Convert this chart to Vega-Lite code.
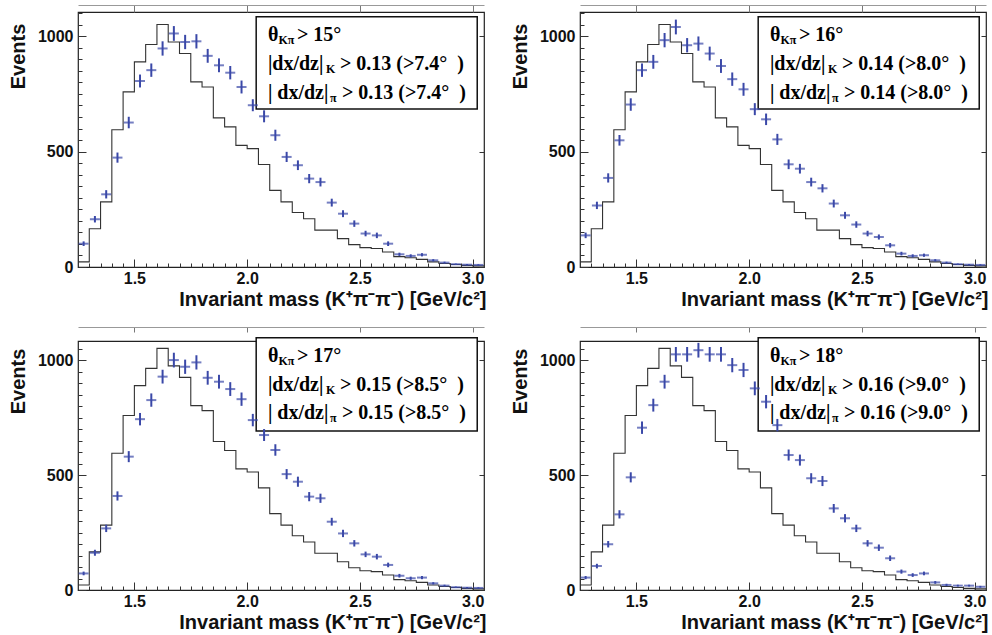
{
"$schema": "https://vega.github.io/schema/vega-lite/v6.json",
"background": "white",
"padding": {"left": 7, "top": 3, "right": 0, "bottom": 0},
"config": {"view": {"stroke": "#222", "strokeWidth": 1.2}, "axis": {"grid": false}},
"datasets": {
"hist": [
{"x":1.25,"n":22},{"x":1.30,"n":166},{"x":1.35,"n":282},{"x":1.40,"n":595},{"x":1.45,"n":759},{"x":1.50,"n":889},{"x":1.55,"n":964},{"x":1.60,"n":1051},{"x":1.65,"n":975},{"x":1.70,"n":925},{"x":1.75,"n":802},{"x":1.80,"n":780},{"x":1.85,"n":646},{"x":1.90,"n":607},{"x":1.95,"n":527},{"x":2.00,"n":513},{"x":2.05,"n":444},{"x":2.10,"n":332},{"x":2.15,"n":282},{"x":2.20,"n":236},{"x":2.25,"n":209},{"x":2.30,"n":160},{"x":2.35,"n":160},{"x":2.40,"n":123},{"x":2.45,"n":97},{"x":2.50,"n":84},{"x":2.55,"n":80},{"x":2.60,"n":65},{"x":2.65,"n":45},{"x":2.70,"n":40},{"x":2.75,"n":33},{"x":2.80,"n":22},{"x":2.85,"n":15},{"x":2.90,"n":11},{"x":2.95,"n":7},{"x":3.00,"n":5},{"x":3.05,"n":5}
],
"pts": [
{"p":1,"m":1.275,"v":101,"e":10},{"p":1,"m":1.325,"v":207,"e":14},{"p":1,"m":1.375,"v":315,"e":18},{"p":1,"m":1.425,"v":474,"e":22},{"p":1,"m":1.475,"v":626,"e":25},{"p":1,"m":1.525,"v":806,"e":28},{"p":1,"m":1.575,"v":853,"e":29},{"p":1,"m":1.625,"v":947,"e":31},{"p":1,"m":1.675,"v":1012,"e":32},{"p":1,"m":1.725,"v":975,"e":31},{"p":1,"m":1.775,"v":978,"e":31},{"p":1,"m":1.825,"v":915,"e":30},{"p":1,"m":1.875,"v":874,"e":30},{"p":1,"m":1.925,"v":842,"e":29},{"p":1,"m":1.975,"v":780,"e":28},{"p":1,"m":2.025,"v":701,"e":26},{"p":1,"m":2.075,"v":653,"e":26},{"p":1,"m":2.125,"v":571,"e":24},{"p":1,"m":2.175,"v":477,"e":22},{"p":1,"m":2.225,"v":441,"e":21},{"p":1,"m":2.275,"v":383,"e":20},{"p":1,"m":2.325,"v":368,"e":19},{"p":1,"m":2.375,"v":279,"e":17},{"p":1,"m":2.425,"v":231,"e":15},{"p":1,"m":2.475,"v":188,"e":14},{"p":1,"m":2.525,"v":145,"e":12},{"p":1,"m":2.575,"v":137,"e":12},{"p":1,"m":2.625,"v":101,"e":10},{"p":1,"m":2.675,"v":55,"e":7},{"p":1,"m":2.725,"v":48,"e":7},{"p":1,"m":2.775,"v":53,"e":7},{"p":1,"m":2.825,"v":29,"e":5},{"p":1,"m":2.875,"v":19,"e":4},{"p":1,"m":2.925,"v":12,"e":3},{"p":1,"m":2.975,"v":10,"e":3},{"p":1,"m":3.025,"v":9,"e":3},
{"p":2,"m":1.275,"v":137,"e":12},{"p":2,"m":1.325,"v":267,"e":16},{"p":2,"m":1.375,"v":386,"e":20},{"p":2,"m":1.425,"v":549,"e":23},{"p":2,"m":1.475,"v":704,"e":27},{"p":2,"m":1.525,"v":853,"e":29},{"p":2,"m":1.575,"v":889,"e":30},{"p":2,"m":1.625,"v":983,"e":31},{"p":2,"m":1.675,"v":1040,"e":32},{"p":2,"m":1.725,"v":961,"e":31},{"p":2,"m":1.775,"v":968,"e":31},{"p":2,"m":1.825,"v":925,"e":30},{"p":2,"m":1.875,"v":871,"e":30},{"p":2,"m":1.925,"v":814,"e":29},{"p":2,"m":1.975,"v":770,"e":28},{"p":2,"m":2.025,"v":684,"e":26},{"p":2,"m":2.075,"v":640,"e":25},{"p":2,"m":2.125,"v":553,"e":24},{"p":2,"m":2.175,"v":445,"e":21},{"p":2,"m":2.225,"v":426,"e":21},{"p":2,"m":2.275,"v":368,"e":19},{"p":2,"m":2.325,"v":341,"e":18},{"p":2,"m":2.375,"v":275,"e":17},{"p":2,"m":2.425,"v":224,"e":15},{"p":2,"m":2.475,"v":184,"e":14},{"p":2,"m":2.525,"v":145,"e":12},{"p":2,"m":2.575,"v":130,"e":11},{"p":2,"m":2.625,"v":94,"e":10},{"p":2,"m":2.675,"v":58,"e":8},{"p":2,"m":2.725,"v":48,"e":7},{"p":2,"m":2.775,"v":51,"e":7},{"p":2,"m":2.825,"v":29,"e":5},{"p":2,"m":2.875,"v":19,"e":4},{"p":2,"m":2.925,"v":12,"e":3},{"p":2,"m":2.975,"v":10,"e":3},{"p":2,"m":3.025,"v":9,"e":3},
{"p":3,"m":1.275,"v":72,"e":8},{"p":3,"m":1.325,"v":162,"e":13},{"p":3,"m":1.375,"v":268,"e":16},{"p":3,"m":1.425,"v":409,"e":20},{"p":3,"m":1.475,"v":580,"e":24},{"p":3,"m":1.525,"v":743,"e":27},{"p":3,"m":1.575,"v":826,"e":29},{"p":3,"m":1.625,"v":928,"e":30},{"p":3,"m":1.675,"v":1000,"e":32},{"p":3,"m":1.725,"v":971,"e":31},{"p":3,"m":1.775,"v":990,"e":31},{"p":3,"m":1.825,"v":923,"e":30},{"p":3,"m":1.875,"v":906,"e":30},{"p":3,"m":1.925,"v":874,"e":30},{"p":3,"m":1.975,"v":830,"e":29},{"p":3,"m":2.025,"v":739,"e":27},{"p":3,"m":2.075,"v":674,"e":26},{"p":3,"m":2.125,"v":609,"e":25},{"p":3,"m":2.175,"v":504,"e":22},{"p":3,"m":2.225,"v":471,"e":22},{"p":3,"m":2.275,"v":406,"e":20},{"p":3,"m":2.325,"v":399,"e":20},{"p":3,"m":2.375,"v":297,"e":17},{"p":3,"m":2.425,"v":246,"e":16},{"p":3,"m":2.475,"v":203,"e":14},{"p":3,"m":2.525,"v":155,"e":12},{"p":3,"m":2.575,"v":145,"e":12},{"p":3,"m":2.625,"v":109,"e":10},{"p":3,"m":2.675,"v":62,"e":8},{"p":3,"m":2.725,"v":51,"e":7},{"p":3,"m":2.775,"v":54,"e":7},{"p":3,"m":2.825,"v":29,"e":5},{"p":3,"m":2.875,"v":19,"e":4},{"p":3,"m":2.925,"v":12,"e":3},{"p":3,"m":2.975,"v":10,"e":3},{"p":3,"m":3.025,"v":9,"e":3},
{"p":4,"m":1.275,"v":54,"e":7},{"p":4,"m":1.325,"v":104,"e":10},{"p":4,"m":1.375,"v":199,"e":14},{"p":4,"m":1.425,"v":329,"e":18},{"p":4,"m":1.475,"v":490,"e":22},{"p":4,"m":1.525,"v":706,"e":27},{"p":4,"m":1.575,"v":804,"e":28},{"p":4,"m":1.625,"v":906,"e":30},{"p":4,"m":1.675,"v":1025,"e":32},{"p":4,"m":1.725,"v":1025,"e":32},{"p":4,"m":1.775,"v":1043,"e":32},{"p":4,"m":1.825,"v":1025,"e":32},{"p":4,"m":1.875,"v":1025,"e":32},{"p":4,"m":1.925,"v":978,"e":31},{"p":4,"m":1.975,"v":957,"e":31},{"p":4,"m":2.025,"v":877,"e":30},{"p":4,"m":2.075,"v":819,"e":29},{"p":4,"m":2.125,"v":717,"e":27},{"p":4,"m":2.175,"v":587,"e":24},{"p":4,"m":2.225,"v":565,"e":24},{"p":4,"m":2.275,"v":486,"e":22},{"p":4,"m":2.325,"v":474,"e":22},{"p":4,"m":2.375,"v":355,"e":19},{"p":4,"m":2.425,"v":312,"e":18},{"p":4,"m":2.475,"v":268,"e":16},{"p":4,"m":2.525,"v":203,"e":14},{"p":4,"m":2.575,"v":184,"e":14},{"p":4,"m":2.625,"v":138,"e":12},{"p":4,"m":2.675,"v":80,"e":9},{"p":4,"m":2.725,"v":65,"e":8},{"p":4,"m":2.775,"v":72,"e":8},{"p":4,"m":2.825,"v":33,"e":6},{"p":4,"m":2.875,"v":22,"e":5},{"p":4,"m":2.925,"v":19,"e":4},{"p":4,"m":2.975,"v":19,"e":4},{"p":4,"m":3.025,"v":14,"e":4}
]
},
"vconcat": [
{"hconcat": [
{"width": 406, "height": 255, "resolve": {"axis": {"x": "independent", "y": "independent"}},
 "layer": [
  {"data": {"values": [{}]}, "mark": {"type": "rect", "fill": "white", "stroke": "#111", "strokeWidth": 1.5},
   "encoding": {"x": {"datum": 2.04, "type": "quantitative", "scale": {"domain": [1.25, 3.05], "nice": false, "zero": false}, "axis": null}, "x2": {"datum": 3.02},
    "y": {"datum": 1084, "type": "quantitative", "scale": {"domain": [0, 1105], "nice": false}, "axis": null}, "y2": {"datum": 685}}},
  {"data": {"name": "hist"}, "mark": {"type": "line", "interpolate": "step-after", "color": "#333", "strokeWidth": 1.1, "clip": true},
   "encoding": {
    "x": {"field": "x", "type": "quantitative", "scale": {"domain": [1.25, 3.05], "nice": false, "zero": false},
     "axis": {"orient": "bottom", "values": [1.3,1.35,1.4,1.45,1.5,1.55,1.6,1.65,1.7,1.75,1.8,1.85,1.9,1.95,2,2.05,2.1,2.15,2.2,2.25,2.3,2.35,2.4,2.45,2.5,2.55,2.6,2.65,2.7,2.75,2.8,2.85,2.9,2.95,3],
      "labelExpr": "abs(datum.value*2-round(datum.value*2))<0.001 ? format(datum.value,'.1f') : ''",
      "tickSize": {"condition": {"test": "abs(datum.value*2-round(datum.value*2))<0.001", "value": -8}, "value": -4},
      "tickColor": "#333", "domain": false, "labelFont": "Liberation Sans", "labelFontWeight": "bold", "labelFontSize": 16, "labelColor": "#111", "labelPadding": 11, "labelOverlap": false, "labelFlush": false,
      "title": "Invariant mass (K⁺π⁻π⁻) [GeV/c²]", "titleFont": "Liberation Sans", "titleFontSize": 20, "titleFontWeight": "bold", "titleColor": "#111", "titleAnchor": "end", "titleAlign": "right", "titleX": 408, "titleY": 38, "titleBaseline": "alphabetic"}},
    "y": {"field": "n", "type": "quantitative", "scale": {"domain": [0, 1105], "nice": false},
     "axis": {"orient": "left", "values": [0,50,100,150,200,250,300,350,400,450,500,550,600,650,700,750,800,850,900,950,1000,1050,1100],
      "labelExpr": "datum.value % 500 == 0 ? format(datum.value,'d') : ''",
      "tickSize": {"condition": {"test": "datum.value % 500 == 0", "value": -8}, "value": -4},
      "tickColor": "#333", "domain": false, "labelFont": "Liberation Sans", "labelFontWeight": "bold", "labelFontSize": 16, "labelColor": "#111", "labelPadding": 13, "labelOverlap": false, "labelFlush": false, "labelBaseline": "middle",
      "title": "Events", "titleFont": "Liberation Sans", "titleFontSize": 20, "titleFontWeight": "bold", "titleColor": "#111", "titleAngle": 270, "titleAlign": "center", "titleBaseline": "middle", "titleX": -60, "titleY": 44}}}},
  {"data": {"name": "pts"}, "transform": [{"filter": "datum.p == 1"}], "mark": {"type": "errorbar", "color": "#3a48a8", "thickness": 2},
   "encoding": {"x": {"field": "m", "type": "quantitative", "scale": {"domain": [1.25, 3.05], "nice": false, "zero": false}, "axis": null},
    "y": {"field": "v", "type": "quantitative", "scale": {"domain": [0, 1105], "nice": false}, "axis": null}, "yError": {"field": "e"}}},
  {"data": {"name": "pts"}, "transform": [{"filter": "datum.p == 1"}], "mark": {"type": "tick", "orient": "horizontal", "color": "#3a48a8", "thickness": 2, "size": 10},
   "encoding": {"x": {"field": "m", "type": "quantitative", "scale": {"domain": [1.25, 3.05], "nice": false, "zero": false},
     "axis": {"orient": "top", "offset": 7, "values": [1.5, 2, 2.5, 3], "tickSize": -7, "tickColor": "#777", "domainColor": "#999", "labels": false, "title": null}},
    "y": {"field": "v", "type": "quantitative", "scale": {"domain": [0, 1105], "nice": false},
     "axis": {"orient": "right", "values": [0, 500, 1000], "tickSize": -5, "tickColor": "#333", "labels": false, "domain": false, "title": null}}}},
  {"data": {"values": [{}]}, "mark": {"type": "text", "text": "θ", "font": "Liberation Serif", "fontWeight": "bold", "fontSize": 20, "align": "left", "baseline": "alphabetic", "color": "#000"},
   "encoding": {"x": {"datum": 2.092, "type": "quantitative", "scale": {"domain": [1.25, 3.05], "nice": false, "zero": false}, "axis": null}, "y": {"datum": 978, "type": "quantitative", "scale": {"domain": [0, 1105], "nice": false}, "axis": null}}},
  {"data": {"values": [{}]}, "mark": {"type": "text", "text": "Kπ", "dx": 10.5, "dy": 3, "font": "Liberation Serif", "fontWeight": "bold", "fontSize": 12, "align": "left", "baseline": "alphabetic", "color": "#000"},
   "encoding": {"x": {"datum": 2.092, "type": "quantitative", "scale": {"domain": [1.25, 3.05], "nice": false, "zero": false}, "axis": null}, "y": {"datum": 978, "type": "quantitative", "scale": {"domain": [0, 1105], "nice": false}, "axis": null}}},
  {"data": {"values": [{}]}, "mark": {"type": "text", "text": "> 15°", "dx": 29, "font": "Liberation Serif", "fontWeight": "bold", "fontSize": 20, "align": "left", "baseline": "alphabetic", "color": "#000"},
   "encoding": {"x": {"datum": 2.092, "type": "quantitative", "scale": {"domain": [1.25, 3.05], "nice": false, "zero": false}, "axis": null}, "y": {"datum": 978, "type": "quantitative", "scale": {"domain": [0, 1105], "nice": false}, "axis": null}}},
  {"data": {"values": [{}]}, "mark": {"type": "text", "text": "|dx/dz|", "font": "Liberation Serif", "fontWeight": "bold", "fontSize": 20, "align": "left", "baseline": "alphabetic", "color": "#000"},
   "encoding": {"x": {"datum": 2.092, "type": "quantitative", "scale": {"domain": [1.25, 3.05], "nice": false, "zero": false}, "axis": null}, "y": {"datum": 853, "type": "quantitative", "scale": {"domain": [0, 1105], "nice": false}, "axis": null}}},
  {"data": {"values": [{}]}, "mark": {"type": "text", "text": "K", "dx": 58, "dy": 3, "font": "Liberation Serif", "fontWeight": "bold", "fontSize": 12, "align": "left", "baseline": "alphabetic", "color": "#000"},
   "encoding": {"x": {"datum": 2.092, "type": "quantitative", "scale": {"domain": [1.25, 3.05], "nice": false, "zero": false}, "axis": null}, "y": {"datum": 853, "type": "quantitative", "scale": {"domain": [0, 1105], "nice": false}, "axis": null}}},
  {"data": {"values": [{}]}, "mark": {"type": "text", "text": "> 0.13 (>7.4°\u00a0\u00a0)", "dx": 72, "font": "Liberation Serif", "fontWeight": "bold", "fontSize": 20, "align": "left", "baseline": "alphabetic", "color": "#000"},
   "encoding": {"x": {"datum": 2.092, "type": "quantitative", "scale": {"domain": [1.25, 3.05], "nice": false, "zero": false}, "axis": null}, "y": {"datum": 853, "type": "quantitative", "scale": {"domain": [0, 1105], "nice": false}, "axis": null}}},
  {"data": {"values": [{}]}, "mark": {"type": "text", "text": "| dx/dz|", "font": "Liberation Serif", "fontWeight": "bold", "fontSize": 20, "align": "left", "baseline": "alphabetic", "color": "#000"},
   "encoding": {"x": {"datum": 2.092, "type": "quantitative", "scale": {"domain": [1.25, 3.05], "nice": false, "zero": false}, "axis": null}, "y": {"datum": 730, "type": "quantitative", "scale": {"domain": [0, 1105], "nice": false}, "axis": null}}},
  {"data": {"values": [{}]}, "mark": {"type": "text", "text": "π", "dx": 62, "dy": 3, "font": "Liberation Serif", "fontWeight": "bold", "fontSize": 12, "align": "left", "baseline": "alphabetic", "color": "#000"},
   "encoding": {"x": {"datum": 2.092, "type": "quantitative", "scale": {"domain": [1.25, 3.05], "nice": false, "zero": false}, "axis": null}, "y": {"datum": 730, "type": "quantitative", "scale": {"domain": [0, 1105], "nice": false}, "axis": null}}},
  {"data": {"values": [{}]}, "mark": {"type": "text", "text": "> 0.13 (>7.4°\u00a0\u00a0)", "dx": 74, "font": "Liberation Serif", "fontWeight": "bold", "fontSize": 20, "align": "left", "baseline": "alphabetic", "color": "#000"},
   "encoding": {"x": {"datum": 2.092, "type": "quantitative", "scale": {"domain": [1.25, 3.05], "nice": false, "zero": false}, "axis": null}, "y": {"datum": 730, "type": "quantitative", "scale": {"domain": [0, 1105], "nice": false}, "axis": null}}}
 ]},
{"width": 406, "height": 255, "resolve": {"axis": {"x": "independent", "y": "independent"}},
 "layer": [
  {"data": {"values": [{}]}, "mark": {"type": "rect", "fill": "white", "stroke": "#111", "strokeWidth": 1.5},
   "encoding": {"x": {"datum": 2.04, "type": "quantitative", "scale": {"domain": [1.25, 3.05], "nice": false, "zero": false}, "axis": null}, "x2": {"datum": 3.02},
    "y": {"datum": 1084, "type": "quantitative", "scale": {"domain": [0, 1105], "nice": false}, "axis": null}, "y2": {"datum": 685}}},
  {"data": {"name": "hist"}, "mark": {"type": "line", "interpolate": "step-after", "color": "#333", "strokeWidth": 1.1, "clip": true},
   "encoding": {
    "x": {"field": "x", "type": "quantitative", "scale": {"domain": [1.25, 3.05], "nice": false, "zero": false},
     "axis": {"orient": "bottom", "values": [1.3,1.35,1.4,1.45,1.5,1.55,1.6,1.65,1.7,1.75,1.8,1.85,1.9,1.95,2,2.05,2.1,2.15,2.2,2.25,2.3,2.35,2.4,2.45,2.5,2.55,2.6,2.65,2.7,2.75,2.8,2.85,2.9,2.95,3],
      "labelExpr": "abs(datum.value*2-round(datum.value*2))<0.001 ? format(datum.value,'.1f') : ''",
      "tickSize": {"condition": {"test": "abs(datum.value*2-round(datum.value*2))<0.001", "value": -8}, "value": -4},
      "tickColor": "#333", "domain": false, "labelFont": "Liberation Sans", "labelFontWeight": "bold", "labelFontSize": 16, "labelColor": "#111", "labelPadding": 11, "labelOverlap": false, "labelFlush": false,
      "title": "Invariant mass (K⁺π⁻π⁻) [GeV/c²]", "titleFont": "Liberation Sans", "titleFontSize": 20, "titleFontWeight": "bold", "titleColor": "#111", "titleAnchor": "end", "titleAlign": "right", "titleX": 408, "titleY": 38, "titleBaseline": "alphabetic"}},
    "y": {"field": "n", "type": "quantitative", "scale": {"domain": [0, 1105], "nice": false},
     "axis": {"orient": "left", "values": [0,50,100,150,200,250,300,350,400,450,500,550,600,650,700,750,800,850,900,950,1000,1050,1100],
      "labelExpr": "datum.value % 500 == 0 ? format(datum.value,'d') : ''",
      "tickSize": {"condition": {"test": "datum.value % 500 == 0", "value": -8}, "value": -4},
      "tickColor": "#333", "domain": false, "labelFont": "Liberation Sans", "labelFontWeight": "bold", "labelFontSize": 16, "labelColor": "#111", "labelPadding": 13, "labelOverlap": false, "labelFlush": false, "labelBaseline": "middle",
      "title": "Events", "titleFont": "Liberation Sans", "titleFontSize": 20, "titleFontWeight": "bold", "titleColor": "#111", "titleAngle": 270, "titleAlign": "center", "titleBaseline": "middle", "titleX": -60, "titleY": 44}}}},
  {"data": {"name": "pts"}, "transform": [{"filter": "datum.p == 2"}], "mark": {"type": "errorbar", "color": "#3a48a8", "thickness": 2},
   "encoding": {"x": {"field": "m", "type": "quantitative", "scale": {"domain": [1.25, 3.05], "nice": false, "zero": false}, "axis": null},
    "y": {"field": "v", "type": "quantitative", "scale": {"domain": [0, 1105], "nice": false}, "axis": null}, "yError": {"field": "e"}}},
  {"data": {"name": "pts"}, "transform": [{"filter": "datum.p == 2"}], "mark": {"type": "tick", "orient": "horizontal", "color": "#3a48a8", "thickness": 2, "size": 10},
   "encoding": {"x": {"field": "m", "type": "quantitative", "scale": {"domain": [1.25, 3.05], "nice": false, "zero": false},
     "axis": {"orient": "top", "offset": 7, "values": [1.5, 2, 2.5, 3], "tickSize": -7, "tickColor": "#777", "domainColor": "#999", "labels": false, "title": null}},
    "y": {"field": "v", "type": "quantitative", "scale": {"domain": [0, 1105], "nice": false},
     "axis": {"orient": "right", "values": [0, 500, 1000], "tickSize": -5, "tickColor": "#333", "labels": false, "domain": false, "title": null}}}},
  {"data": {"values": [{}]}, "mark": {"type": "text", "text": "θ", "font": "Liberation Serif", "fontWeight": "bold", "fontSize": 20, "align": "left", "baseline": "alphabetic", "color": "#000"},
   "encoding": {"x": {"datum": 2.092, "type": "quantitative", "scale": {"domain": [1.25, 3.05], "nice": false, "zero": false}, "axis": null}, "y": {"datum": 978, "type": "quantitative", "scale": {"domain": [0, 1105], "nice": false}, "axis": null}}},
  {"data": {"values": [{}]}, "mark": {"type": "text", "text": "Kπ", "dx": 10.5, "dy": 3, "font": "Liberation Serif", "fontWeight": "bold", "fontSize": 12, "align": "left", "baseline": "alphabetic", "color": "#000"},
   "encoding": {"x": {"datum": 2.092, "type": "quantitative", "scale": {"domain": [1.25, 3.05], "nice": false, "zero": false}, "axis": null}, "y": {"datum": 978, "type": "quantitative", "scale": {"domain": [0, 1105], "nice": false}, "axis": null}}},
  {"data": {"values": [{}]}, "mark": {"type": "text", "text": "> 16°", "dx": 29, "font": "Liberation Serif", "fontWeight": "bold", "fontSize": 20, "align": "left", "baseline": "alphabetic", "color": "#000"},
   "encoding": {"x": {"datum": 2.092, "type": "quantitative", "scale": {"domain": [1.25, 3.05], "nice": false, "zero": false}, "axis": null}, "y": {"datum": 978, "type": "quantitative", "scale": {"domain": [0, 1105], "nice": false}, "axis": null}}},
  {"data": {"values": [{}]}, "mark": {"type": "text", "text": "|dx/dz|", "font": "Liberation Serif", "fontWeight": "bold", "fontSize": 20, "align": "left", "baseline": "alphabetic", "color": "#000"},
   "encoding": {"x": {"datum": 2.092, "type": "quantitative", "scale": {"domain": [1.25, 3.05], "nice": false, "zero": false}, "axis": null}, "y": {"datum": 853, "type": "quantitative", "scale": {"domain": [0, 1105], "nice": false}, "axis": null}}},
  {"data": {"values": [{}]}, "mark": {"type": "text", "text": "K", "dx": 58, "dy": 3, "font": "Liberation Serif", "fontWeight": "bold", "fontSize": 12, "align": "left", "baseline": "alphabetic", "color": "#000"},
   "encoding": {"x": {"datum": 2.092, "type": "quantitative", "scale": {"domain": [1.25, 3.05], "nice": false, "zero": false}, "axis": null}, "y": {"datum": 853, "type": "quantitative", "scale": {"domain": [0, 1105], "nice": false}, "axis": null}}},
  {"data": {"values": [{}]}, "mark": {"type": "text", "text": "> 0.14 (>8.0°\u00a0\u00a0)", "dx": 72, "font": "Liberation Serif", "fontWeight": "bold", "fontSize": 20, "align": "left", "baseline": "alphabetic", "color": "#000"},
   "encoding": {"x": {"datum": 2.092, "type": "quantitative", "scale": {"domain": [1.25, 3.05], "nice": false, "zero": false}, "axis": null}, "y": {"datum": 853, "type": "quantitative", "scale": {"domain": [0, 1105], "nice": false}, "axis": null}}},
  {"data": {"values": [{}]}, "mark": {"type": "text", "text": "| dx/dz|", "font": "Liberation Serif", "fontWeight": "bold", "fontSize": 20, "align": "left", "baseline": "alphabetic", "color": "#000"},
   "encoding": {"x": {"datum": 2.092, "type": "quantitative", "scale": {"domain": [1.25, 3.05], "nice": false, "zero": false}, "axis": null}, "y": {"datum": 730, "type": "quantitative", "scale": {"domain": [0, 1105], "nice": false}, "axis": null}}},
  {"data": {"values": [{}]}, "mark": {"type": "text", "text": "π", "dx": 62, "dy": 3, "font": "Liberation Serif", "fontWeight": "bold", "fontSize": 12, "align": "left", "baseline": "alphabetic", "color": "#000"},
   "encoding": {"x": {"datum": 2.092, "type": "quantitative", "scale": {"domain": [1.25, 3.05], "nice": false, "zero": false}, "axis": null}, "y": {"datum": 730, "type": "quantitative", "scale": {"domain": [0, 1105], "nice": false}, "axis": null}}},
  {"data": {"values": [{}]}, "mark": {"type": "text", "text": "> 0.14 (>8.0°\u00a0\u00a0)", "dx": 74, "font": "Liberation Serif", "fontWeight": "bold", "fontSize": 20, "align": "left", "baseline": "alphabetic", "color": "#000"},
   "encoding": {"x": {"datum": 2.092, "type": "quantitative", "scale": {"domain": [1.25, 3.05], "nice": false, "zero": false}, "axis": null}, "y": {"datum": 730, "type": "quantitative", "scale": {"domain": [0, 1105], "nice": false}, "axis": null}}}
 ]}
], "spacing": 22},
{"hconcat": [
{"width": 406, "height": 249, "resolve": {"axis": {"x": "independent", "y": "independent"}},
 "layer": [
  {"data": {"values": [{}]}, "mark": {"type": "rect", "fill": "white", "stroke": "#111", "strokeWidth": 1.5},
   "encoding": {"x": {"datum": 2.04, "type": "quantitative", "scale": {"domain": [1.25, 3.05], "nice": false, "zero": false}, "axis": null}, "x2": {"datum": 3.02},
    "y": {"datum": 1097, "type": "quantitative", "scale": {"domain": [0, 1083], "nice": false}, "axis": null}, "y2": {"datum": 692}}},
  {"data": {"name": "hist"}, "mark": {"type": "line", "interpolate": "step-after", "color": "#333", "strokeWidth": 1.1, "clip": true},
   "encoding": {
    "x": {"field": "x", "type": "quantitative", "scale": {"domain": [1.25, 3.05], "nice": false, "zero": false},
     "axis": {"orient": "bottom", "values": [1.3,1.35,1.4,1.45,1.5,1.55,1.6,1.65,1.7,1.75,1.8,1.85,1.9,1.95,2,2.05,2.1,2.15,2.2,2.25,2.3,2.35,2.4,2.45,2.5,2.55,2.6,2.65,2.7,2.75,2.8,2.85,2.9,2.95,3],
      "labelExpr": "abs(datum.value*2-round(datum.value*2))<0.001 ? format(datum.value,'.1f') : ''",
      "tickSize": {"condition": {"test": "abs(datum.value*2-round(datum.value*2))<0.001", "value": -8}, "value": -4},
      "tickColor": "#333", "domain": false, "labelFont": "Liberation Sans", "labelFontWeight": "bold", "labelFontSize": 16, "labelColor": "#111", "labelPadding": 11, "labelOverlap": false, "labelFlush": false,
      "title": "Invariant mass (K⁺π⁻π⁻) [GeV/c²]", "titleFont": "Liberation Sans", "titleFontSize": 20, "titleFontWeight": "bold", "titleColor": "#111", "titleAnchor": "end", "titleAlign": "right", "titleX": 408, "titleY": 38, "titleBaseline": "alphabetic"}},
    "y": {"field": "n", "type": "quantitative", "scale": {"domain": [0, 1083], "nice": false},
     "axis": {"orient": "left", "values": [0,50,100,150,200,250,300,350,400,450,500,550,600,650,700,750,800,850,900,950,1000,1050],
      "labelExpr": "datum.value % 500 == 0 ? format(datum.value,'d') : ''",
      "tickSize": {"condition": {"test": "datum.value % 500 == 0", "value": -8}, "value": -4},
      "tickColor": "#333", "domain": false, "labelFont": "Liberation Sans", "labelFontWeight": "bold", "labelFontSize": 16, "labelColor": "#111", "labelPadding": 13, "labelOverlap": false, "labelFlush": false, "labelBaseline": "middle",
      "title": "Events", "titleFont": "Liberation Sans", "titleFontSize": 20, "titleFontWeight": "bold", "titleColor": "#111", "titleAngle": 270, "titleAlign": "center", "titleBaseline": "middle", "titleX": -60, "titleY": 40}}}},
  {"data": {"name": "pts"}, "transform": [{"filter": "datum.p == 3"}], "mark": {"type": "errorbar", "color": "#3a48a8", "thickness": 2},
   "encoding": {"x": {"field": "m", "type": "quantitative", "scale": {"domain": [1.25, 3.05], "nice": false, "zero": false}, "axis": null},
    "y": {"field": "v", "type": "quantitative", "scale": {"domain": [0, 1083], "nice": false}, "axis": null}, "yError": {"field": "e"}}},
  {"data": {"name": "pts"}, "transform": [{"filter": "datum.p == 3"}], "mark": {"type": "tick", "orient": "horizontal", "color": "#3a48a8", "thickness": 2, "size": 10},
   "encoding": {"x": {"field": "m", "type": "quantitative", "scale": {"domain": [1.25, 3.05], "nice": false, "zero": false},
     "axis": {"orient": "top", "offset": 14, "values": [1.5, 2, 2.5, 3], "tickSize": -5, "tickColor": "#777", "domainColor": "#999", "labels": false, "title": null}},
    "y": {"field": "v", "type": "quantitative", "scale": {"domain": [0, 1083], "nice": false},
     "axis": {"orient": "right", "values": [0, 500, 1000], "tickSize": -5, "tickColor": "#333", "labels": false, "domain": false, "title": null}}}},
  {"data": {"values": [{}]}, "mark": {"type": "text", "text": "θ", "font": "Liberation Serif", "fontWeight": "bold", "fontSize": 20, "align": "left", "baseline": "alphabetic", "color": "#000"},
   "encoding": {"x": {"datum": 2.092, "type": "quantitative", "scale": {"domain": [1.25, 3.05], "nice": false, "zero": false}, "axis": null}, "y": {"datum": 992, "type": "quantitative", "scale": {"domain": [0, 1083], "nice": false}, "axis": null}}},
  {"data": {"values": [{}]}, "mark": {"type": "text", "text": "Kπ", "dx": 10.5, "dy": 3, "font": "Liberation Serif", "fontWeight": "bold", "fontSize": 12, "align": "left", "baseline": "alphabetic", "color": "#000"},
   "encoding": {"x": {"datum": 2.092, "type": "quantitative", "scale": {"domain": [1.25, 3.05], "nice": false, "zero": false}, "axis": null}, "y": {"datum": 992, "type": "quantitative", "scale": {"domain": [0, 1083], "nice": false}, "axis": null}}},
  {"data": {"values": [{}]}, "mark": {"type": "text", "text": "> 17°", "dx": 29, "font": "Liberation Serif", "fontWeight": "bold", "fontSize": 20, "align": "left", "baseline": "alphabetic", "color": "#000"},
   "encoding": {"x": {"datum": 2.092, "type": "quantitative", "scale": {"domain": [1.25, 3.05], "nice": false, "zero": false}, "axis": null}, "y": {"datum": 992, "type": "quantitative", "scale": {"domain": [0, 1083], "nice": false}, "axis": null}}},
  {"data": {"values": [{}]}, "mark": {"type": "text", "text": "|dx/dz|", "font": "Liberation Serif", "fontWeight": "bold", "fontSize": 20, "align": "left", "baseline": "alphabetic", "color": "#000"},
   "encoding": {"x": {"datum": 2.092, "type": "quantitative", "scale": {"domain": [1.25, 3.05], "nice": false, "zero": false}, "axis": null}, "y": {"datum": 866, "type": "quantitative", "scale": {"domain": [0, 1083], "nice": false}, "axis": null}}},
  {"data": {"values": [{}]}, "mark": {"type": "text", "text": "K", "dx": 58, "dy": 3, "font": "Liberation Serif", "fontWeight": "bold", "fontSize": 12, "align": "left", "baseline": "alphabetic", "color": "#000"},
   "encoding": {"x": {"datum": 2.092, "type": "quantitative", "scale": {"domain": [1.25, 3.05], "nice": false, "zero": false}, "axis": null}, "y": {"datum": 866, "type": "quantitative", "scale": {"domain": [0, 1083], "nice": false}, "axis": null}}},
  {"data": {"values": [{}]}, "mark": {"type": "text", "text": "> 0.15 (>8.5°\u00a0\u00a0)", "dx": 72, "font": "Liberation Serif", "fontWeight": "bold", "fontSize": 20, "align": "left", "baseline": "alphabetic", "color": "#000"},
   "encoding": {"x": {"datum": 2.092, "type": "quantitative", "scale": {"domain": [1.25, 3.05], "nice": false, "zero": false}, "axis": null}, "y": {"datum": 866, "type": "quantitative", "scale": {"domain": [0, 1083], "nice": false}, "axis": null}}},
  {"data": {"values": [{}]}, "mark": {"type": "text", "text": "| dx/dz|", "font": "Liberation Serif", "fontWeight": "bold", "fontSize": 20, "align": "left", "baseline": "alphabetic", "color": "#000"},
   "encoding": {"x": {"datum": 2.092, "type": "quantitative", "scale": {"domain": [1.25, 3.05], "nice": false, "zero": false}, "axis": null}, "y": {"datum": 742, "type": "quantitative", "scale": {"domain": [0, 1083], "nice": false}, "axis": null}}},
  {"data": {"values": [{}]}, "mark": {"type": "text", "text": "π", "dx": 62, "dy": 3, "font": "Liberation Serif", "fontWeight": "bold", "fontSize": 12, "align": "left", "baseline": "alphabetic", "color": "#000"},
   "encoding": {"x": {"datum": 2.092, "type": "quantitative", "scale": {"domain": [1.25, 3.05], "nice": false, "zero": false}, "axis": null}, "y": {"datum": 742, "type": "quantitative", "scale": {"domain": [0, 1083], "nice": false}, "axis": null}}},
  {"data": {"values": [{}]}, "mark": {"type": "text", "text": "> 0.15 (>8.5°\u00a0\u00a0)", "dx": 74, "font": "Liberation Serif", "fontWeight": "bold", "fontSize": 20, "align": "left", "baseline": "alphabetic", "color": "#000"},
   "encoding": {"x": {"datum": 2.092, "type": "quantitative", "scale": {"domain": [1.25, 3.05], "nice": false, "zero": false}, "axis": null}, "y": {"datum": 742, "type": "quantitative", "scale": {"domain": [0, 1083], "nice": false}, "axis": null}}}
 ]},
{"width": 406, "height": 249, "resolve": {"axis": {"x": "independent", "y": "independent"}},
 "layer": [
  {"data": {"values": [{}]}, "mark": {"type": "rect", "fill": "white", "stroke": "#111", "strokeWidth": 1.5},
   "encoding": {"x": {"datum": 2.04, "type": "quantitative", "scale": {"domain": [1.25, 3.05], "nice": false, "zero": false}, "axis": null}, "x2": {"datum": 3.02},
    "y": {"datum": 1097, "type": "quantitative", "scale": {"domain": [0, 1083], "nice": false}, "axis": null}, "y2": {"datum": 692}}},
  {"data": {"name": "hist"}, "mark": {"type": "line", "interpolate": "step-after", "color": "#333", "strokeWidth": 1.1, "clip": true},
   "encoding": {
    "x": {"field": "x", "type": "quantitative", "scale": {"domain": [1.25, 3.05], "nice": false, "zero": false},
     "axis": {"orient": "bottom", "values": [1.3,1.35,1.4,1.45,1.5,1.55,1.6,1.65,1.7,1.75,1.8,1.85,1.9,1.95,2,2.05,2.1,2.15,2.2,2.25,2.3,2.35,2.4,2.45,2.5,2.55,2.6,2.65,2.7,2.75,2.8,2.85,2.9,2.95,3],
      "labelExpr": "abs(datum.value*2-round(datum.value*2))<0.001 ? format(datum.value,'.1f') : ''",
      "tickSize": {"condition": {"test": "abs(datum.value*2-round(datum.value*2))<0.001", "value": -8}, "value": -4},
      "tickColor": "#333", "domain": false, "labelFont": "Liberation Sans", "labelFontWeight": "bold", "labelFontSize": 16, "labelColor": "#111", "labelPadding": 11, "labelOverlap": false, "labelFlush": false,
      "title": "Invariant mass (K⁺π⁻π⁻) [GeV/c²]", "titleFont": "Liberation Sans", "titleFontSize": 20, "titleFontWeight": "bold", "titleColor": "#111", "titleAnchor": "end", "titleAlign": "right", "titleX": 408, "titleY": 38, "titleBaseline": "alphabetic"}},
    "y": {"field": "n", "type": "quantitative", "scale": {"domain": [0, 1083], "nice": false},
     "axis": {"orient": "left", "values": [0,50,100,150,200,250,300,350,400,450,500,550,600,650,700,750,800,850,900,950,1000,1050],
      "labelExpr": "datum.value % 500 == 0 ? format(datum.value,'d') : ''",
      "tickSize": {"condition": {"test": "datum.value % 500 == 0", "value": -8}, "value": -4},
      "tickColor": "#333", "domain": false, "labelFont": "Liberation Sans", "labelFontWeight": "bold", "labelFontSize": 16, "labelColor": "#111", "labelPadding": 13, "labelOverlap": false, "labelFlush": false, "labelBaseline": "middle",
      "title": "Events", "titleFont": "Liberation Sans", "titleFontSize": 20, "titleFontWeight": "bold", "titleColor": "#111", "titleAngle": 270, "titleAlign": "center", "titleBaseline": "middle", "titleX": -60, "titleY": 40}}}},
  {"data": {"name": "pts"}, "transform": [{"filter": "datum.p == 4"}], "mark": {"type": "errorbar", "color": "#3a48a8", "thickness": 2},
   "encoding": {"x": {"field": "m", "type": "quantitative", "scale": {"domain": [1.25, 3.05], "nice": false, "zero": false}, "axis": null},
    "y": {"field": "v", "type": "quantitative", "scale": {"domain": [0, 1083], "nice": false}, "axis": null}, "yError": {"field": "e"}}},
  {"data": {"name": "pts"}, "transform": [{"filter": "datum.p == 4"}], "mark": {"type": "tick", "orient": "horizontal", "color": "#3a48a8", "thickness": 2, "size": 10},
   "encoding": {"x": {"field": "m", "type": "quantitative", "scale": {"domain": [1.25, 3.05], "nice": false, "zero": false},
     "axis": {"orient": "top", "offset": 14, "values": [1.5, 2, 2.5, 3], "tickSize": -5, "tickColor": "#777", "domainColor": "#999", "labels": false, "title": null}},
    "y": {"field": "v", "type": "quantitative", "scale": {"domain": [0, 1083], "nice": false},
     "axis": {"orient": "right", "values": [0, 500, 1000], "tickSize": -5, "tickColor": "#333", "labels": false, "domain": false, "title": null}}}},
  {"data": {"values": [{}]}, "mark": {"type": "text", "text": "θ", "font": "Liberation Serif", "fontWeight": "bold", "fontSize": 20, "align": "left", "baseline": "alphabetic", "color": "#000"},
   "encoding": {"x": {"datum": 2.092, "type": "quantitative", "scale": {"domain": [1.25, 3.05], "nice": false, "zero": false}, "axis": null}, "y": {"datum": 992, "type": "quantitative", "scale": {"domain": [0, 1083], "nice": false}, "axis": null}}},
  {"data": {"values": [{}]}, "mark": {"type": "text", "text": "Kπ", "dx": 10.5, "dy": 3, "font": "Liberation Serif", "fontWeight": "bold", "fontSize": 12, "align": "left", "baseline": "alphabetic", "color": "#000"},
   "encoding": {"x": {"datum": 2.092, "type": "quantitative", "scale": {"domain": [1.25, 3.05], "nice": false, "zero": false}, "axis": null}, "y": {"datum": 992, "type": "quantitative", "scale": {"domain": [0, 1083], "nice": false}, "axis": null}}},
  {"data": {"values": [{}]}, "mark": {"type": "text", "text": "> 18°", "dx": 29, "font": "Liberation Serif", "fontWeight": "bold", "fontSize": 20, "align": "left", "baseline": "alphabetic", "color": "#000"},
   "encoding": {"x": {"datum": 2.092, "type": "quantitative", "scale": {"domain": [1.25, 3.05], "nice": false, "zero": false}, "axis": null}, "y": {"datum": 992, "type": "quantitative", "scale": {"domain": [0, 1083], "nice": false}, "axis": null}}},
  {"data": {"values": [{}]}, "mark": {"type": "text", "text": "|dx/dz|", "font": "Liberation Serif", "fontWeight": "bold", "fontSize": 20, "align": "left", "baseline": "alphabetic", "color": "#000"},
   "encoding": {"x": {"datum": 2.092, "type": "quantitative", "scale": {"domain": [1.25, 3.05], "nice": false, "zero": false}, "axis": null}, "y": {"datum": 866, "type": "quantitative", "scale": {"domain": [0, 1083], "nice": false}, "axis": null}}},
  {"data": {"values": [{}]}, "mark": {"type": "text", "text": "K", "dx": 58, "dy": 3, "font": "Liberation Serif", "fontWeight": "bold", "fontSize": 12, "align": "left", "baseline": "alphabetic", "color": "#000"},
   "encoding": {"x": {"datum": 2.092, "type": "quantitative", "scale": {"domain": [1.25, 3.05], "nice": false, "zero": false}, "axis": null}, "y": {"datum": 866, "type": "quantitative", "scale": {"domain": [0, 1083], "nice": false}, "axis": null}}},
  {"data": {"values": [{}]}, "mark": {"type": "text", "text": "> 0.16 (>9.0°\u00a0\u00a0)", "dx": 72, "font": "Liberation Serif", "fontWeight": "bold", "fontSize": 20, "align": "left", "baseline": "alphabetic", "color": "#000"},
   "encoding": {"x": {"datum": 2.092, "type": "quantitative", "scale": {"domain": [1.25, 3.05], "nice": false, "zero": false}, "axis": null}, "y": {"datum": 866, "type": "quantitative", "scale": {"domain": [0, 1083], "nice": false}, "axis": null}}},
  {"data": {"values": [{}]}, "mark": {"type": "text", "text": "| dx/dz|", "font": "Liberation Serif", "fontWeight": "bold", "fontSize": 20, "align": "left", "baseline": "alphabetic", "color": "#000"},
   "encoding": {"x": {"datum": 2.092, "type": "quantitative", "scale": {"domain": [1.25, 3.05], "nice": false, "zero": false}, "axis": null}, "y": {"datum": 742, "type": "quantitative", "scale": {"domain": [0, 1083], "nice": false}, "axis": null}}},
  {"data": {"values": [{}]}, "mark": {"type": "text", "text": "π", "dx": 62, "dy": 3, "font": "Liberation Serif", "fontWeight": "bold", "fontSize": 12, "align": "left", "baseline": "alphabetic", "color": "#000"},
   "encoding": {"x": {"datum": 2.092, "type": "quantitative", "scale": {"domain": [1.25, 3.05], "nice": false, "zero": false}, "axis": null}, "y": {"datum": 742, "type": "quantitative", "scale": {"domain": [0, 1083], "nice": false}, "axis": null}}},
  {"data": {"values": [{}]}, "mark": {"type": "text", "text": "> 0.16 (>9.0°\u00a0\u00a0)", "dx": 74, "font": "Liberation Serif", "fontWeight": "bold", "fontSize": 20, "align": "left", "baseline": "alphabetic", "color": "#000"},
   "encoding": {"x": {"datum": 2.092, "type": "quantitative", "scale": {"domain": [1.25, 3.05], "nice": false, "zero": false}, "axis": null}, "y": {"datum": 742, "type": "quantitative", "scale": {"domain": [0, 1083], "nice": false}, "axis": null}}}
 ]}
], "spacing": 22}
], "spacing": 15
}
